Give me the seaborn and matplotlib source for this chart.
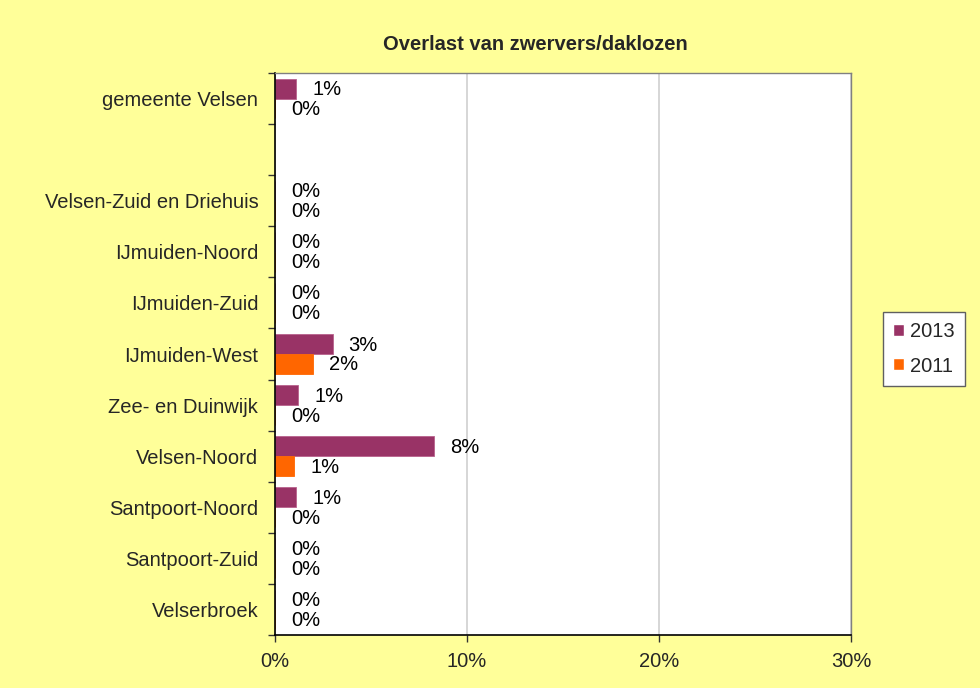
import matplotlib
matplotlib.use("Agg")
import matplotlib.pyplot as plt
import pandas as pd
import seaborn as sns
from matplotlib.ticker import FuncFormatter, FixedLocator

categories = [
    "gemeente Velsen",
    " ",
    "Velsen-Zuid en Driehuis",
    "IJmuiden-Noord",
    "IJmuiden-Zuid",
    "IJmuiden-West",
    "Zee- en Duinwijk",
    "Velsen-Noord",
    "Santpoort-Noord",
    "Santpoort-Zuid",
    "Velserbroek",
]
values_2013 = [1.1, None, 0, 0, 0, 3.0, 1.2, 8.3, 1.1, 0, 0]
values_2011 = [0.0, None, 0, 0, 0, 2.0, 0.0, 1.0, 0.0, 0, 0]
labels_2013 = ["1%", "", "0%", "0%", "0%", "3%", "1%", "8%", "1%", "0%", "0%"]
labels_2011 = ["0%", "", "0%", "0%", "0%", "2%", "0%", "1%", "0%", "0%", "0%"]
years = ["2013", "2011"]
colors = {"2013": "#993366", "2011": "#FF6600"}

df = pd.concat([
    pd.DataFrame({"wijk": categories, "waarde": values_2013, "jaar": "2013"}),
    pd.DataFrame({"wijk": categories, "waarde": values_2011, "jaar": "2011"}),
], ignore_index=True).dropna()

sns.set_style("white")
plt.rcParams["font.family"] = ["Liberation Sans", "DejaVu Sans"]
FS = 14.5

fig = plt.figure(figsize=(9.8, 6.88), dpi=100)
fig.patch.set_facecolor("#FFFF99")
ax = fig.add_axes([0.2806, 0.077, 0.5878, 0.8169])
ax.set_facecolor("white")

sns.barplot(data=df, y="wijk", x="waarde", hue="jaar", order=categories,
            hue_order=years, palette=colors, orient="h", width=0.78,
            ax=ax, saturation=1, errorbar=None)

# data labels, matched to bars by their category row
for cont, labs, edge in zip(ax.containers, [labels_2013, labels_2011], ["#B8628C", "#FF6600"]):
    for bar in cont:
        bar.set_edgecolor(edge)
        bar.set_linewidth(0.6)
        yc = bar.get_y() + bar.get_height() / 2
        lab = labs[int(round(yc))]
        if not lab:
            continue
        ax.annotate(lab, (bar.get_width(), yc), xytext=(16, -1),
                    textcoords="offset pixels", ha="left", va="center",
                    fontsize=FS, color="black")

ax.set_xlim(0, 30)
ax.set_ylim(len(categories) - 0.5, -0.5)
ax.xaxis.set_major_locator(FixedLocator([0, 10, 20, 30]))
ax.xaxis.set_major_formatter(FuncFormatter(lambda v, p: f"{v:.0f}%"))
ax.grid(axis="x", color="#D0D0D0", linewidth=1.2)
ax.set_axisbelow(True)

# category boundary ticks on y axis
ax.set_yticks(range(len(categories)))
ax.set_yticklabels(categories)
ax.yaxis.set_minor_locator(FixedLocator([i - 0.5 for i in range(len(categories) + 1)]))
ax.tick_params(axis="y", which="major", length=0, labelsize=FS, pad=12)
ax.tick_params(axis="y", which="minor", length=5, width=1, color="#333333", direction="out", left=True)
ax.tick_params(axis="x", length=5, width=1, color="#333333", direction="out", bottom=True,
               labelsize=FS, pad=7)
ax.set_xlabel("")
ax.set_ylabel("")

for side in ["left", "bottom"]:
    ax.spines[side].set_color("black")
    ax.spines[side].set_linewidth(1.2)
for side in ["top", "right"]:
    ax.spines[side].set_color("#808080")
    ax.spines[side].set_linewidth(1)

leg = ax.legend(loc="center left", bbox_to_anchor=(1.0556, 0.509), fontsize=FS,
                frameon=True, fancybox=False, framealpha=1, handlelength=0.55,
                handleheight=0.55, handletextpad=0.3, labelspacing=0.75,
                borderpad=0.5, borderaxespad=0)
leg.get_frame().set_edgecolor("#606060")
leg.get_frame().set_linewidth(1)

fig.text(535 / 980, 1 - 45 / 688, "Overlast van zwervers/daklozen", ha="center", va="center",
         fontsize=14.5, fontweight="bold")

fig.savefig("out.png", dpi=100, facecolor=fig.get_facecolor())
